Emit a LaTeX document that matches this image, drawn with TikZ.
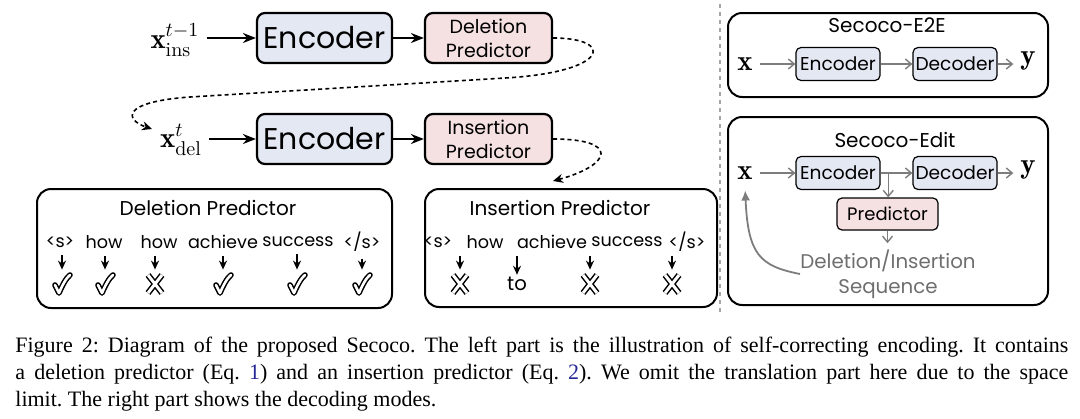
\documentclass[tikz,border=0pt]{standalone}
\usepackage{amsmath}
\usepackage{fontspec}
\usetikzlibrary{arrows.meta,positioning,calc}
\newfontfamily\comic{Poppins}
\newfontfamily\capfont{Liberation Serif}
\definecolor{encfill}{RGB}{228,232,243}
\definecolor{predfill}{RGB}{245,225,225}
\definecolor{linkgray}{RGB}{125,125,125}
\definecolor{seqgray}{RGB}{110,110,110}
\definecolor{refblue}{RGB}{40,40,150}
\tikzset{
  enc/.style={draw, line width=1.1pt, rounded corners=4pt, fill=encfill, minimum width=67.5pt, minimum height=25pt, inner sep=0pt, font=\comic\fontsize{15}{17}\selectfont},
  pred/.style={draw, line width=1.1pt, rounded corners=4pt, fill=predfill, minimum width=63.5pt, minimum height=25pt, inner sep=0pt, align=center, font=\comic\fontsize{9.5}{12}\selectfont},
  arr/.style={-{Stealth[length=6.5pt,width=5pt]}, line width=1pt},
  dasharr/.style={-{Stealth[length=5pt,width=4.5pt]}, line width=0.8pt, dash pattern=on 2pt off 1.6pt},
  panel/.style={draw, line width=1pt, rounded corners=7pt, inner sep=0pt},
  paneltitle/.style={font=\comic\fontsize{10}{12}\selectfont, inner sep=1pt},
  tok/.style={font=\comic\fontsize{8.8}{10}\selectfont, inner sep=1pt},
  markspot/.style={minimum width=8pt, minimum height=14pt, inner sep=0pt},
  tokarr/.style={-{Stealth[length=4.5pt,width=4pt]}, line width=0.7pt, shorten <=2.5pt},
  senc/.style={draw, line width=0.6pt, rounded corners=2.5pt, fill=encfill, minimum width=42pt, minimum height=16.5pt, inner sep=0pt, font=\comic\fontsize{9.3}{11}\selectfont},
  spred/.style={senc, fill=predfill, minimum width=50.5pt, minimum height=16pt, font=\comic\fontsize{9}{10}\selectfont},
  garr/.style={-{Straight Barb[length=3pt,width=5pt]}, draw=linkgray, line width=0.7pt},
  fbarr/.style={-{Latex[length=5pt,width=4.5pt]}, draw=linkgray, line width=0.9pt, shorten >=2pt},
  okmark/.pic={
    \draw[line width=2.8pt, line cap=round, line join=round] (-7,1) -- (-3,9) .. controls (0,2) and (4,-6) .. (8,-9);
    \draw[white, line width=1.3pt, line cap=round, line join=round] (-7,1) -- (-3,9) .. controls (0,2) and (4,-6) .. (8,-9);
  },
  nomark/.pic={
    \draw[line width=3pt] (-7,-9) -- (7,9) (7,-9) -- (-7,9);
    \draw[white, line width=1.5pt] (-7,-9) -- (7,9) (7,-9) -- (-7,9);
  }
}

\begin{document}
\begin{tikzpicture}[x=0.5pt, y=-0.5pt]
    \useasboundingbox (0,0) rectangle (1080,418);
    % Self-correcting encoding
    \node[font=\Large] (xins) at (175,40) {$\mathbf{x}_{\text{ins}}^{t-1}$};
    \node[enc] (enc1) at (324.5,38) {Encoder};
    \node[pred] (delp) at (488.5,38) {Deletion\\Predictor};
    \node[font=\Large] (xdel) at (181,140) {$\mathbf{x}_{\text{del}}^{t}$};
    \node[enc] (enc2) at (324.5,139) {Encoder};
    \node[pred] (insp) at (488.5,139) {Insertion\\Predictor};
    \draw[arr] (xins.east |- enc1) -- (enc1);
    \draw[arr] (enc1) -- (delp);
    \draw[arr] (xdel.east |- enc2) -- (enc2);
    \draw[arr] (enc2) -- (insp);
    \coordinate (xdelin) at (152,129);
    \coordinate (insboxin) at (553,181);
    \draw[dasharr] (delp.east) .. controls (615,38) and (610,72) .. (505,78) -- (190,97) .. controls (120,102) and (125,120) .. (xdelin);
    \draw[dasharr] (insp.east) .. controls (620,139) and (612,165) .. (insboxin);
    % Deletion predictor
    \node[panel, minimum width=177.5pt, minimum height=59.5pt] (delbox) at (214.5,248.5) {};
    \node[paneltitle] (deltitle) at (208,208) {Deletion Predictor};
    \node[tok] (dt1) at (60,242) {<s>};
    \node[tok] (dt2) at (104,242) {how};
    \node[tok] (dt3) at (159,242) {how};
    \node[tok] (dt4) at (223,242) {achieve};
    \node[tok] (dt5) at (298,242) {success};
    \node[tok] (dt6) at (362,242) {</s>};
    \node[markspot] (dm1) at (62,284) {};
    \node[markspot] (dm2) at (105,284) {};
    \node[markspot] (dm3) at (155,284) {};
    \node[markspot] (dm4) at (223,284) {};
    \node[markspot] (dm5) at (297,284) {};
    \node[markspot] (dm6) at (362,284) {};
    \pic at (dm1) {okmark};
    \pic at (dm2) {okmark};
    \pic at (dm3) {nomark};
    \pic at (dm4) {okmark};
    \pic at (dm5) {okmark};
    \pic at (dm6) {okmark};
    \draw[tokarr] (dt1.south -| dm1) -- (dm1);
    \draw[tokarr] (dt2.south -| dm2) -- (dm2);
    \draw[tokarr] (dt3.south -| dm3) -- (dm3);
    \draw[tokarr] (dt4.south -| dm4) -- (dm4);
    \draw[tokarr] (dt5.south -| dm5) -- (dm5);
    \draw[tokarr] (dt6.south -| dm6) -- (dm6);
    % Insertion predictor
    \node[panel, minimum width=146pt, minimum height=59pt] (insbox) at (571,248) {};
    \node[paneltitle] (institle) at (560,208) {Insertion Predictor};
    \node[tok] (it1) at (438,242) {<s>};
    \node[tok] (it2) at (485,242) {how};
    \node[tok] (it3) at (552,242) {achieve};
    \node[tok] (it4) at (627,242) {success};
    \node[tok] (it5) at (687,242) {</s>};
    \node[markspot] (im1) at (460,284) {};
    \node[tok, font=\comic\fontsize{9.8}{11}\selectfont] (im2) at (517,284) {to};
    \node[markspot] (im3) at (590,284) {};
    \node[markspot] (im4) at (672,284) {};
    \pic at (im1) {nomark};
    \pic at (im3) {nomark};
    \pic at (im4) {nomark};
    \coordinate (is1) at (460,251);
    \coordinate (is2) at (517,251);
    \coordinate (is3) at (590,251);
    \coordinate (is4) at (672,251);
    \draw[tokarr] (is1) -- (im1);
    \draw[tokarr] (is2) -- (im2);
    \draw[tokarr] (is3) -- (im3);
    \draw[tokarr] (is4) -- (im4);
    % Separator
    \draw[draw=gray!70, line width=0.7pt, dash pattern=on 2pt off 2pt] (720,4) -- (720,312);
    % Decoding modes
    \node[panel, minimum width=160pt, minimum height=42pt] (e2ebox) at (888,55) {};
    \node[paneltitle] (e2etitle) at (887,25) {Secoco-E2E};
    \node[font=\Large] (ex1) at (745,64) {$\mathbf{x}$};
    \node[senc] (eenc1) at (838,64) {Encoder};
    \node[senc] (edec1) at (955,64) {Decoder};
    \node[font=\Large] (ey1) at (1028,61) {$\mathbf{y}$};
    \draw[garr] (ex1.east |- eenc1) -- (eenc1.west);
    \draw[garr] (eenc1) -- (edec1);
    \draw[garr] (edec1) -- (edec1 -| ey1.west);
    \node[panel, minimum width=160pt, minimum height=94pt] (editbox) at (888,211) {};
    \node[paneltitle] (edittitle) at (895,140) {Secoco-Edit};
    \node[font=\Large] (ex2) at (745,173) {$\mathbf{x}$};
    \node[senc] (eenc2) at (838,173) {Encoder};
    \node[senc] (edec2) at (955,173) {Decoder};
    \node[font=\Large] (ey2) at (1028,170) {$\mathbf{y}$};
    \node[spred] (epred) at (887.5,214) {Predictor};
    \node[font=\comic\fontsize{9.9}{12.5}\selectfont, text=seqgray, align=center, inner sep=0pt] (eseq) at (888,274) {Deletion/Insertion\\Sequence};
    \coordinate (ebranch) at ($(eenc2.east)!0.24!(edec2.west)$);
    \draw[garr] (ex2.east |- eenc2) -- (eenc2.west);
    \draw[garr] (eenc2) -- (edec2);
    \draw[garr] (edec2) -- (edec2 -| ey2.west);
    \draw[garr] (ebranch) -- (ebranch |- epred.north);
    \draw[garr, shorten >=3pt] (epred) -- (epred |- eseq.north);
    \draw[fbarr] (eseq.west) .. controls (760,266) and (748,255) .. (ex2.south);
    % Caption
    \node[anchor=north west, inner sep=0pt, text width=526.5pt, align=justify, font=\capfont\fontsize{11}{13.5}\selectfont] (caption) at (15,337) {\frenchspacing Figure 2: Diagram of the proposed Secoco. The left part is the illustration of self-correcting encoding. It contains\linebreak a deletion predictor (Eq.~\textcolor{refblue}{1}) and an insertion predictor (Eq.~\textcolor{refblue}{2}). We omit the translation part here due to the space\linebreak limit. The right part shows the decoding modes.};
\end{tikzpicture}
\end{document}
